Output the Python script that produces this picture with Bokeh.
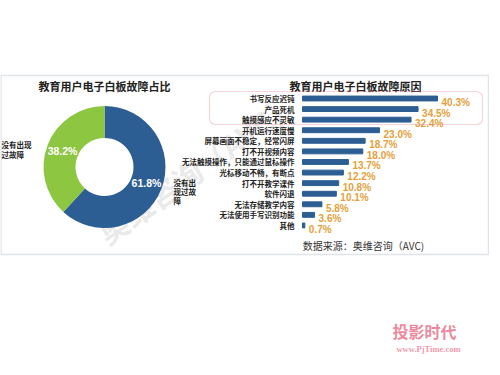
import math
from bokeh.plotting import figure
from bokeh.models import Range1d, ColumnDataSource, BoxAnnotation
from bokeh.core.properties import value
from bokeh.embed import file_html
from bokeh.resources import INLINE

# ---------------- data ----------------
pie_title = "教育用户电子白板故障占比"
pie_labels = ["没有出现过故障", "没有出现过故障"]
pie_values = [61.8, 38.2]
pie_colors = ["#2D5E93", "#8DC641"]

bar_title = "教育用户电子白板故障原因"
bar_categories = ["书写反应迟钝", "产品死机", "触摸感应不灵敏", "开机运行速度慢",
                  "屏幕画面不稳定，经常闪屏", "打不开视频内容",
                  "无法触摸操作，只能通过鼠标操作", "光标移动不畅，有断点",
                  "打不开教学课件", "软件闪退", "无法存储教学内容",
                  "无法使用手写识别功能", "其他"]
bar_values = [40.3, 34.5, 32.4, 23.0, 18.7, 18.0, 13.7, 12.2, 10.8, 10.1, 5.8, 3.6, 0.7]
source_note = "数据来源：奥维咨询（AVC)"

CJK = value("'Noto Sans CJK SC', sans-serif")
NUM = value("'Liberation Sans', 'Noto Sans CJK SC', sans-serif")

W, H = 489, 359
p = figure(width=W, height=H, output_backend="svg", toolbar_location=None,
           x_range=Range1d(8, 8 + W), y_range=Range1d(8 + H, 8),
           min_border=0, background_fill_color="white", border_fill_color="white")
p.axis.visible = False
p.grid.visible = False
p.outline_line_color = None

# bar scales: 0% at x=310, 3.35 px per percent; row 0 at y=106, 10.58 px per row
px_per_pct = 3.35
row_px = 10.58
p.extra_x_ranges = {"pct": Range1d(-(310 - 8) / px_per_pct, (8 + W - 310) / px_per_pct)}
p.extra_y_ranges = {"idx": Range1d((8 + H - 106) / row_px, -(106 - 8) / row_px)}

# outer frame
p.add_layout(BoxAnnotation(left=8.5, right=496, top=83, bottom=262,
                           fill_alpha=0, line_color="#9AA4B0", line_width=1.5))

# watermark
p.text(x=[205], y=[175], text=["奥维咨询（AVC）"], angle=math.radians(35),
       text_font=CJK, text_font_size="30px", text_font_style="bold",
       text_color="#C8C8C8", text_alpha=0.4, text_align="center", text_baseline="middle")

# ---------------- donut ----------------
cx, cy = 112, 174.5
cum = 0.0
starts, ends, lx, ly, ltxt = [], [], [], [], []
for v in pie_values:
    f0 = cum / 100.0
    cum += v
    f1 = cum / 100.0
    starts.append(math.pi / 2 - 2 * math.pi * f1)
    ends.append(math.pi / 2 - 2 * math.pi * f0)
    fm = (f0 + f1) / 2
    lx.append(cx + 45 * math.sin(2 * math.pi * fm))
    ly.append(cy - 45 * math.cos(2 * math.pi * fm))
    ltxt.append(f"{v:.1f}%")
p.annular_wedge(x=cx, y=cy, inner_radius=29, outer_radius=61,
                inner_radius_units="screen", outer_radius_units="screen",
                start_angle=starts, end_angle=ends, color=pie_colors, line_color=None)
p.text(x=lx, y=ly, text=ltxt, text_color="white", text_font=NUM,
       text_font_size="10.5px", text_font_style="bold",
       text_align="center", text_baseline="middle")
# side labels (one glyph per line)
p.text(x=[9, 9], y=[152, 162], text=["没有出现", "过故障"], text_font=CJK,
       text_font_size="7.5px", text_font_style="bold", text_color="#222222",
       text_align="left", text_baseline="middle")
p.text(x=[181, 181, 181], y=[190, 199, 208], text=["没有出", "现过故", "障"], text_font=CJK,
       text_font_size="7.5px", text_font_style="bold", text_color="#222222",
       text_align="left", text_baseline="middle")
p.text(x=[112], y=[93], text=[pie_title], text_font=CJK, text_font_size="11px",
       text_font_style="bold", text_color="#222222", text_align="center", text_baseline="middle")

# ---------------- bars ----------------
idx = list(range(len(bar_categories)))
src = ColumnDataSource(dict(y=idx, v=bar_values, cat=bar_categories,
                            lab=[f"{v:.1f}%" for v in bar_values]))
p.hbar(y="y", left=0, right="v", height=0.46, source=src, color="#2D5E93",
       x_range_name="pct", y_range_name="idx")
p.text(x=-2.4, y="y", text="cat", source=src, x_range_name="pct", y_range_name="idx",
       text_font=CJK, text_font_size="7.5px", text_font_style="bold", text_color="#222222",
       text_align="right", text_baseline="middle")
p.text(x="v", y="y", text="lab", source=src, x_range_name="pct", y_range_name="idx",
       x_offset=4, y_offset=4, text_font=NUM, text_font_size="10px",
       text_font_style="bold", text_color="#E5A03A",
       text_align="left", text_baseline="middle")
p.text(x=[363], y=[93], text=[bar_title], text_font=CJK, text_font_size="11px",
       text_font_style="bold", text_color="#222222", text_align="center", text_baseline="middle")
p.add_layout(BoxAnnotation(left=217, right=490, top=99, bottom=132, fill_alpha=0,
                           line_color="#E0707E", line_width=1.2, border_radius=6))
p.text(x=[371], y=[253], text=[source_note], text_font=CJK, text_font_size="10px",
       text_color="#333333", text_align="center", text_baseline="middle")

# PjTime mark
p.text(x=[432], y=[338], text=["投影时代"], text_font=CJK, text_font_size="16px",
       text_font_style="bold", text_color="#E8738C", text_alpha=0.85,
       text_align="center", text_baseline="middle")
p.text(x=[436], y=[356], text=["www.PjTime.com"], text_font=value("'Liberation Serif', serif"),
       text_font_size="8.5px", text_font_style="bold", text_color="#E8738C", text_alpha=0.75,
       text_align="center", text_baseline="middle")

open("out.html", "w").write(file_html(p, INLINE))
